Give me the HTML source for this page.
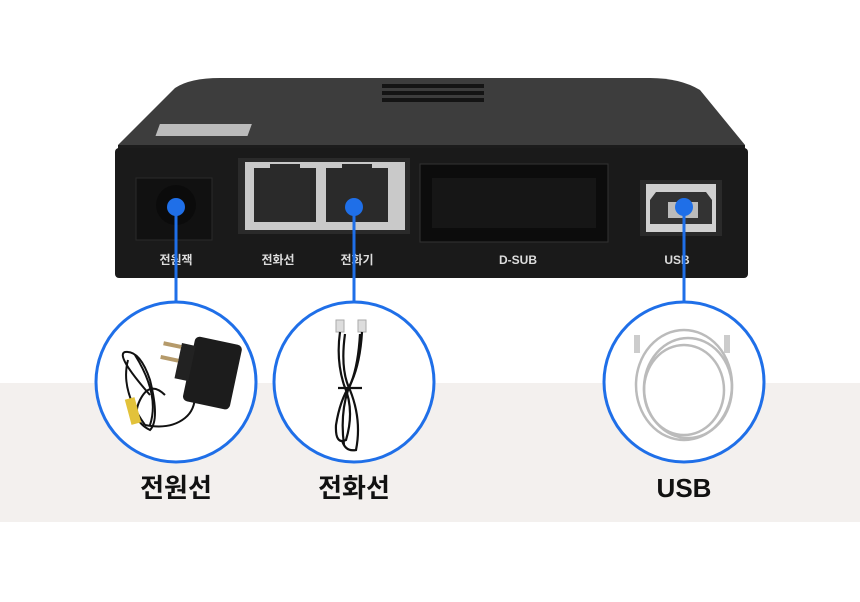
<!DOCTYPE html><html><head><meta charset="utf-8"><style>body{margin:0;width:860px;height:597px;overflow:hidden;background:#fff}</style></head><body>
<svg width="860" height="597" viewBox="0 0 860 597" xmlns="http://www.w3.org/2000/svg" font-family="Liberation Sans, Noto Sans CJK KR, sans-serif">
<rect x="0" y="383" width="860" height="139" fill="#f3f0ee"/>
<path d="M118 145 L175 88 Q190 78 220 78 L650 78 Q680 78 700 90 L745 145 Z" fill="#3d3d3d"/>
<path d="M118 145 L745 145 L745 152 L118 152 Z" fill="#1c1c1c"/>
<g fill="#141414"><rect x="382" y="84" width="102" height="4"/><rect x="382" y="91" width="102" height="4"/><rect x="382" y="98" width="102" height="4"/></g>
<rect x="160" y="124" width="92" height="12" fill="#bbb" transform="skewX(-20) translate(45 0)"/>
<rect x="115" y="148" width="633" height="130" rx="4" fill="#1a1a1a"/>
<rect x="136" y="178" width="76" height="62" fill="#111" stroke="#2a2a2a"/>
<circle cx="176" cy="205" r="20" fill="#0b0b0b"/>
<rect x="238" y="158" width="172" height="76" fill="#2a2a2a"/>
<rect x="245" y="162" width="160" height="68" fill="#c9c9c9"/>
<rect x="254" y="168" width="62" height="54" fill="#2a2a2a"/><rect x="270" y="164" width="30" height="8" fill="#2a2a2a"/>
<rect x="326" y="168" width="62" height="54" fill="#2a2a2a"/><rect x="342" y="164" width="30" height="8" fill="#2a2a2a"/>
<rect x="420" y="164" width="188" height="78" fill="#0c0c0c" stroke="#333"/>
<rect x="432" y="178" width="164" height="50" fill="#161616"/>
<rect x="640" y="180" width="82" height="56" fill="#2a2a2a"/>
<rect x="646" y="184" width="70" height="48" fill="#d0d0d0"/>
<path d="M656 192 L706 192 L712 200 L712 224 L650 224 L650 200 Z" fill="#333"/>
<rect x="668" y="202" width="30" height="16" fill="#bbb"/>
<g fill="#ddd" font-size="12" font-weight="bold" text-anchor="middle"><text x="176" y="264">전원잭</text><text x="278" y="264">전화선</text><text x="357" y="264">전화기</text><text x="518" y="264">D-SUB</text><text x="677" y="264">USB</text></g>
<g stroke="#1f6fe8" stroke-width="3" fill="#fff">
<line x1="176" y1="207" x2="176" y2="302"/><line x1="354" y1="207" x2="354" y2="302"/><line x1="684" y1="207" x2="684" y2="302"/>
<circle cx="176" cy="382" r="80"/><circle cx="354" cy="382" r="80"/><circle cx="684" cy="382" r="80"/>
</g>
<g fill="#1f6fe8"><circle cx="176" cy="207" r="9"/><circle cx="354" cy="207" r="9"/><circle cx="684" cy="207" r="9"/></g>
<g fill="none" stroke="#111" stroke-width="2">
<path d="M150 395 Q115 355 125 352 Q140 350 150 380 Q160 420 150 430 Q130 420 140 400 Q150 380 165 395"/>
<path d="M128 360 Q120 390 145 425 M135 355 Q160 395 150 425 M145 425 Q170 430 185 418 Q195 410 195 395"/>
</g>
<g transform="rotate(12 212 375)">
<rect x="188" y="340" width="48" height="66" rx="5" fill="#1c1c1c"/>
<rect x="176" y="350" width="14" height="36" fill="#222"/>
<rect x="158" y="352" width="18" height="4" fill="#b59a6a"/><rect x="158" y="366" width="18" height="4" fill="#b59a6a"/>
</g>
<rect x="128" y="398" width="10" height="26" fill="#e2c23a" transform="rotate(-15 133 411)"/>
<rect x="336" y="320" width="8" height="12" fill="#ddd" stroke="#aaa"/><rect x="358" y="320" width="8" height="12" fill="#ddd" stroke="#aaa"/>
<g fill="none" stroke="#111" stroke-width="2.2">
<path d="M340 332 Q336 360 344 385 Q355 410 346 440 Q335 445 336 425 Q340 400 350 385 Q360 365 362 332"/>
<path d="M345 334 Q340 370 350 390 Q362 420 356 450 Q345 452 342 440 M360 334 Q358 370 348 390 Q340 415 344 445"/>
<path d="M338 388 L362 388"/>
</g>
<g fill="none" stroke="#bbb" stroke-width="2.5"><ellipse cx="684" cy="385" rx="48" ry="55"/><ellipse cx="684" cy="390" rx="40" ry="45"/><ellipse cx="688" cy="388" rx="44" ry="50"/></g>
<rect x="634" y="335" width="6" height="18" fill="#ccc"/><rect x="724" y="335" width="6" height="18" fill="#ccc"/>
<g font-size="26" font-weight="bold" fill="#111" text-anchor="middle"><text x="176" y="497">전원선</text><text x="354" y="497">전화선</text><text x="684" y="497">USB</text></g>
</svg></body></html>
